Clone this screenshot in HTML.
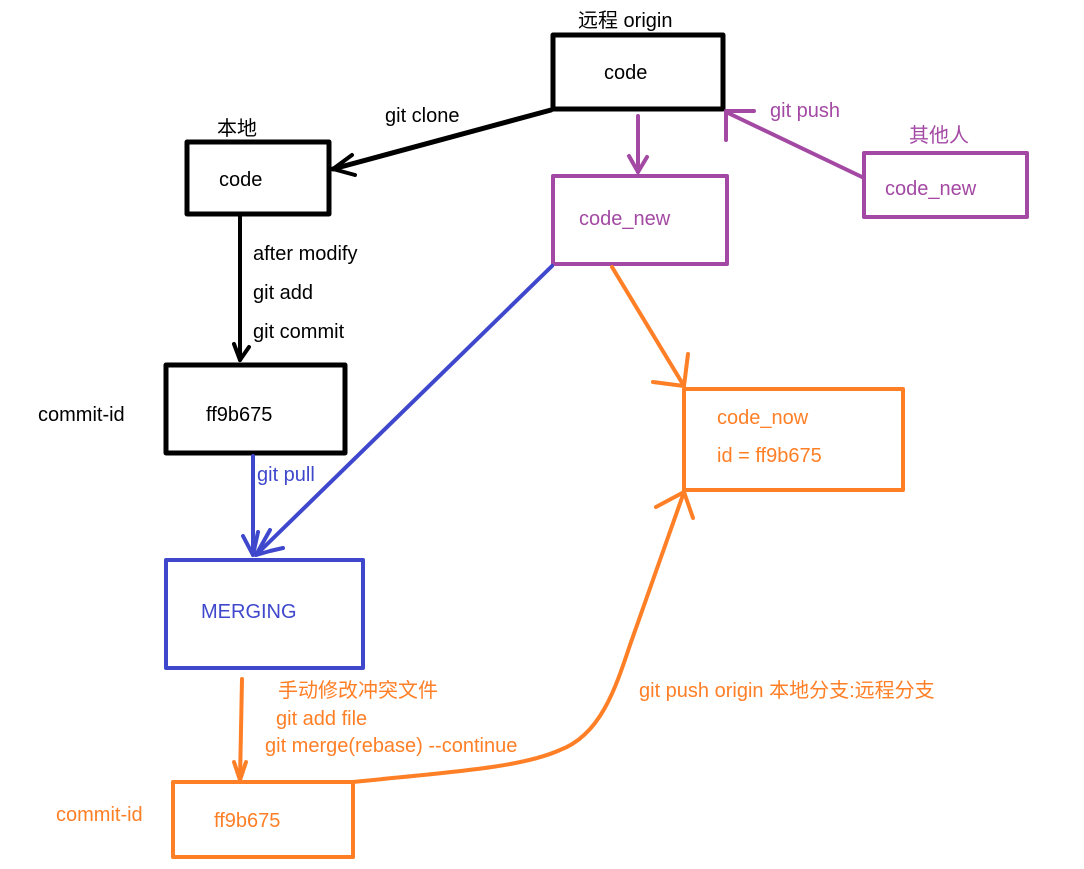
<!DOCTYPE html>
<html><head><meta charset="utf-8">
<style>
html,body{margin:0;padding:0;background:#fff;}
svg{display:block;}
text{font-family:"Liberation Sans","Noto Sans CJK SC",sans-serif;font-size:20px;}
</style></head>
<body>
<svg width="1084" height="869" viewBox="0 0 1084 869" xmlns="http://www.w3.org/2000/svg">
<g fill="none" stroke-linecap="round" stroke-linejoin="round">
 <!-- black -->
 <g stroke="#000" stroke-width="4">
  <rect x="553" y="35" width="170" height="74" stroke-width="5"/>
  <rect x="187" y="142" width="142" height="72" stroke-width="5"/>
  <rect x="166" y="365" width="179" height="88" stroke-width="5"/>
  <line x1="551" y1="110" x2="333" y2="169" stroke-width="5"/>
  <polyline points="352,155 333,169 355,175"/>
  <line x1="240" y1="216" x2="240" y2="360"/>
  <polyline points="234,344 240,360 249,347"/>
 </g>
 <!-- purple -->
 <g stroke="#A349A4" stroke-width="4">
  <rect x="553" y="176" width="174" height="88"/>
  <rect x="864" y="153" width="163" height="64"/>
  <line x1="638" y1="116" x2="638" y2="172"/>
  <polyline points="629,156 638,172 647,157"/>
  <line x1="862" y1="177" x2="726" y2="112"/>
  <polyline points="754,111 726,111 726,140"/>
 </g>
 <!-- blue -->
 <g stroke="#3F48CC" stroke-width="4">
  <rect x="166" y="560" width="197" height="108"/>
  <line x1="253" y1="456" x2="253" y2="555"/>
  <polyline points="243,536 253,555 258,532"/>
  <line x1="552" y1="266" x2="256" y2="555"/>
  <polyline points="270,530 256,555 270,551 270,551 283,548"/>
 </g>
 <!-- orange -->
 <g stroke="#FF7F27" stroke-width="4">
  <rect x="684" y="389" width="219" height="101"/>
  <rect x="173" y="782" width="180" height="75"/>
  <line x1="612" y1="267" x2="684" y2="386"/>
  <polyline points="653,382 684,386 688,354"/>
  <line x1="242" y1="679" x2="240" y2="780" />
  <polyline points="234,762 240,780 246,762"/>
  <path d="M353,782 C450,772 520,768 560,750 C600,735 615,690 630,645 L660,560 L684,492"/>
  <polyline points="656,507 684,492 693,518"/>
 </g>
</g>
<!-- text -->
<g fill="#000">
 <text x="578" y="27">远程 origin</text>
 <text x="604" y="79">code</text>
 <text x="217" y="135">本地</text>
 <text x="219" y="186">code</text>
 <text x="385" y="122">git clone</text>
 <text x="253" y="260">after modify</text>
 <text x="253" y="299">git add</text>
 <text x="253" y="338">git commit</text>
 <text x="38" y="421">commit-id</text>
 <text x="206" y="421">ff9b675</text>
</g>
<g fill="#A349A4">
 <text x="579" y="225">code_new</text>
 <text x="770" y="117">git push</text>
 <text x="909" y="142">其他人</text>
 <text x="885" y="195">code_new</text>
</g>
<g fill="#3F48CC">
 <text x="257" y="481">git pull</text>
 <text x="201" y="618">MERGING</text>
</g>
<g fill="#FF7F27">
 <text x="717" y="424">code_now</text>
 <text x="717" y="462">id =  ff9b675</text>
 <text x="278" y="697">手动修改冲突文件</text>
 <text x="276" y="725">git add file</text>
 <text x="265" y="752">git merge(rebase) --continue</text>
 <text x="639" y="697">git push origin 本地分支:远程分支</text>
 <text x="56" y="821">commit-id</text>
 <text x="214" y="827">ff9b675</text>
</g>
</svg>
</body></html>
